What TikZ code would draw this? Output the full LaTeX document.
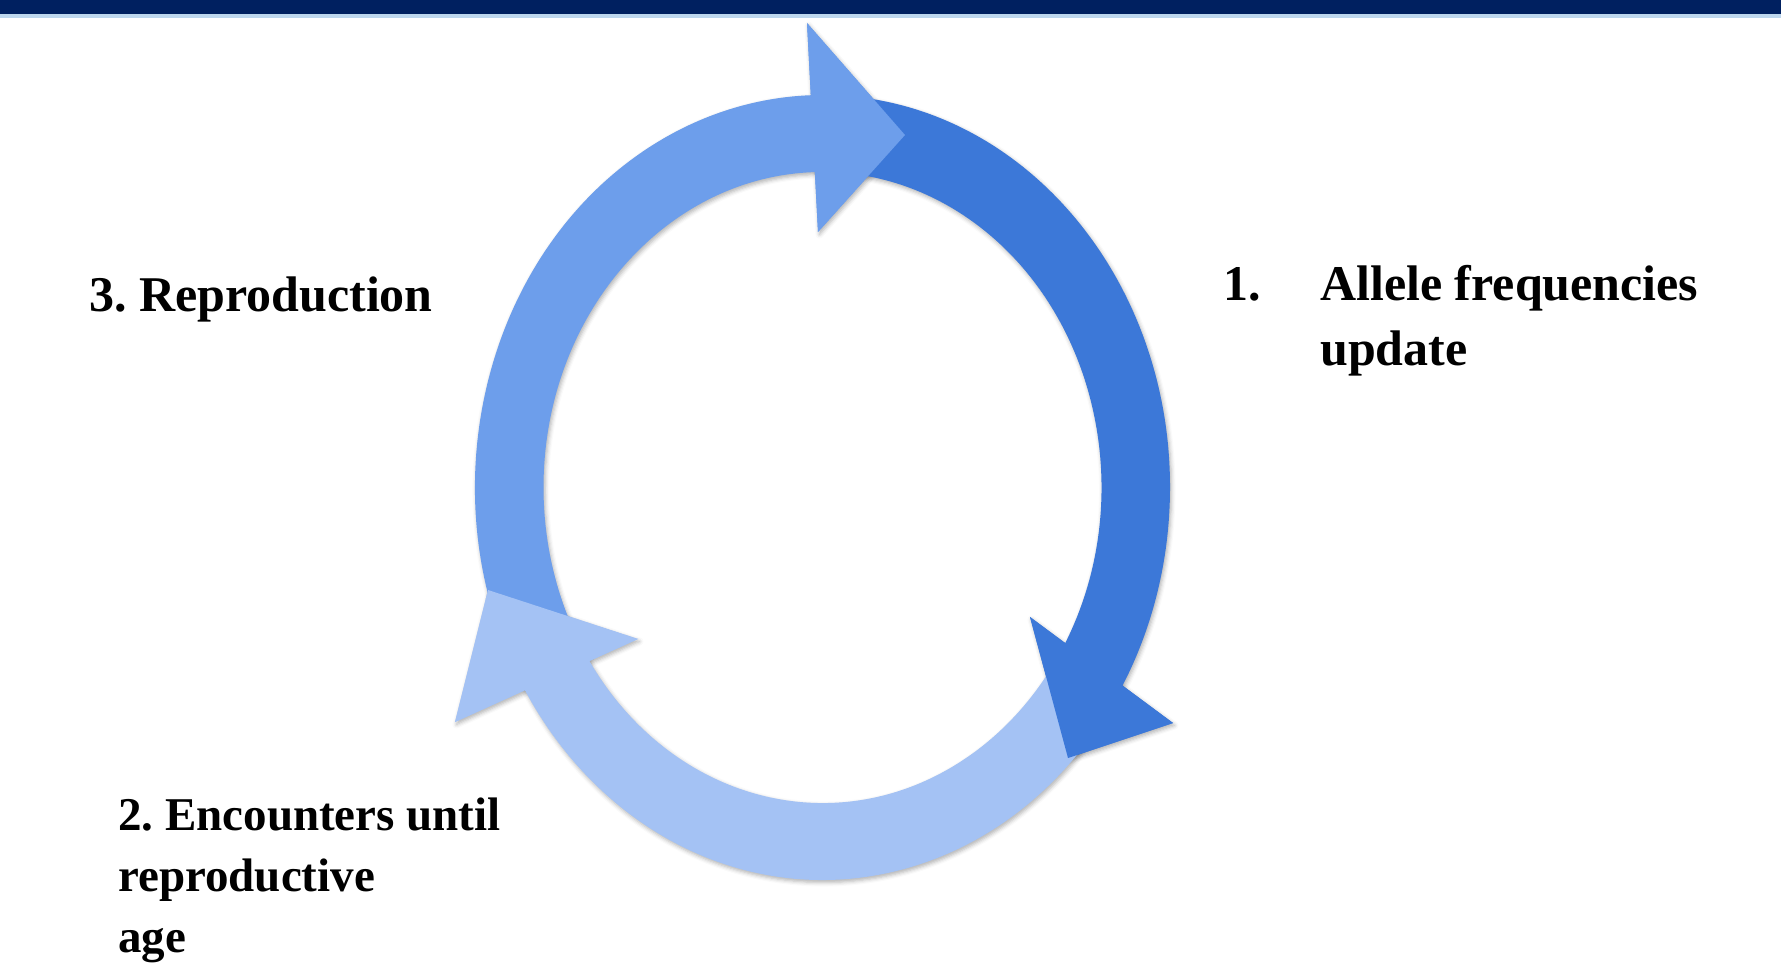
\documentclass[tikz,border=0pt]{standalone}
\usepackage{fontspec}
\setmainfont{Liberation Serif}
\frenchspacing
\usetikzlibrary{calc,shadows.blur}
\definecolor{navy}{HTML}{002060}
\definecolor{barline}{HTML}{BDD7EE}
\definecolor{darkblue}{HTML}{3C78D8}
\definecolor{midblue}{HTML}{6D9EEB}
\definecolor{lightblue}{HTML}{A4C2F4}
\newcommand\bandsector[3]{%
  \fill[#1,band] ($(C)+(#2:347.5 and 392.5)$)
    arc[start angle=#2,end angle=#3,x radius=347.5,y radius=392.5]
    -- ($(C)+(#3:279 and 315.5)$)
    arc[start angle=#3,end angle=#2,x radius=279,y radius=315.5] -- cycle;}
\newcommand\tophead[1]{\fill[midblue,#1] (807,944) -- (905,832) -- (818,735) -- cycle;}
\newcommand\righthead[1]{\fill[darkblue,#1] (1030,350) -- (1173,244) -- (1068,209) -- cycle;}
\newcommand\lefthead[1]{\fill[lightblue,#1] (455,245) -- (638,328) -- (488,377) -- cycle;}
\begin{document}
\begin{tikzpicture}[x=1pt,y=1pt,
  band/.style={blur shadow={shadow xshift=1.5pt,shadow yshift=-2.5pt,shadow blur radius=4pt,shadow opacity=30}},
  plain/.style={},
  txt/.style={font=\fontsize{50}{65}\selectfont\bfseries, inner sep=0pt, text=black},
  txtsmall/.style={font=\fontsize{47}{61}\selectfont\bfseries, inner sep=0pt, text=black},
]
\useasboundingbox (0,0) rectangle (1781,967);
\fill[navy] (0,953) rectangle (1781,967);
\fill[barline] (0,949) rectangle (1781,953);
\coordinate (C) at (822.5,479.5);
% arrowhead shadows
\tophead{band}
\righthead{band}
\lefthead{band}
% bands
\bandsector{darkblue}{86}{-33}
\bandsector{lightblue}{-35}{-151}
\bandsector{midblue}{207}{88}
% arrowheads
\tophead{plain}
\righthead{plain}
\lefthead{plain}
% labels
\node[txt,anchor=base west] (t3) at (89,655) {3. Reproduction};
\node[txtsmall,anchor=base west,align=left] (t2) at (118,15) {2. Encounters until\\reproductive\\age};
\node[txt,anchor=base west] (n1) at (1223,666) {1.};
\node[txt,anchor=base west,align=left] (t1) at (1320,601) {Allele frequencies\\update};
\end{tikzpicture}
\end{document}
